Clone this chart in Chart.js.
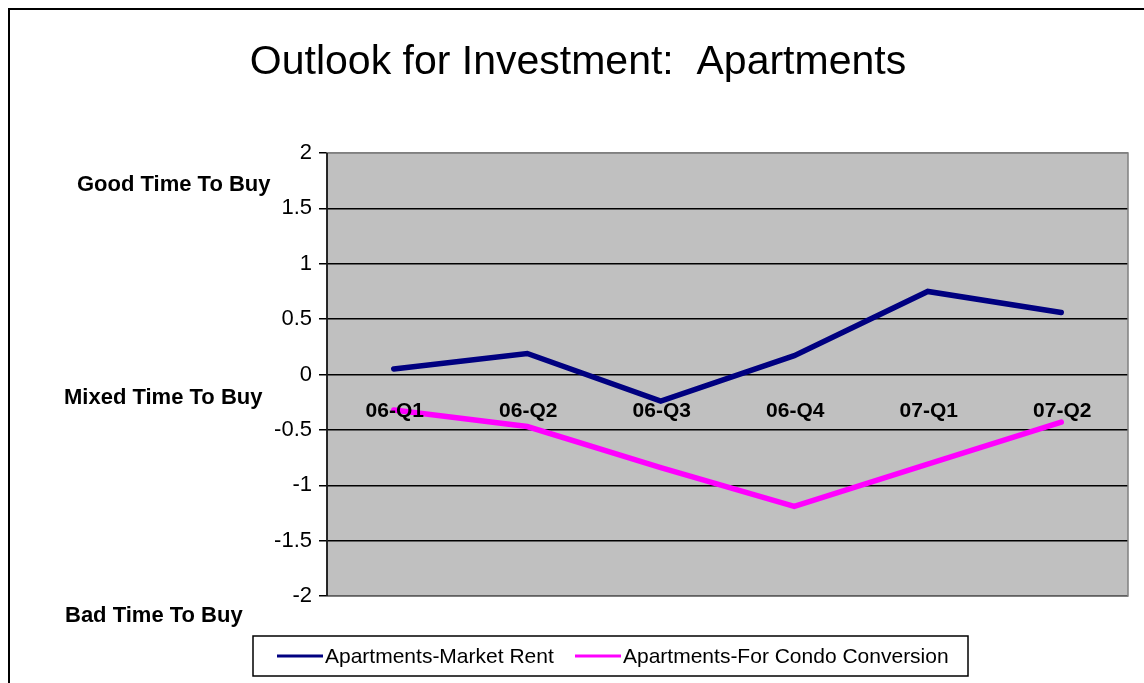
<!DOCTYPE html>
<html>
<head>
<meta charset="utf-8">
<script src="https://cdn.jsdelivr.net/npm/chart.js@4"></script>
<style>
  html, body { margin: 0; padding: 0; background: #fff; }
  #wrap { width: 1144px; height: 683px; position: relative; }
</style>
</head>
<body>
<div id="wrap"><canvas id="outlookChart" width="1144" height="683"></canvas></div>
<script>
const quarters = ['06-Q1', '06-Q2', '06-Q3', '06-Q4', '07-Q1', '07-Q2'];
const marketRent = [0.05, 0.19, -0.24, 0.17, 0.75, 0.56];
const condoConversion = [-0.32, -0.47, -0.84, -1.19, -0.81, -0.43];
const yTicks = [2, 1.5, 1, 0.5, 0, -0.5, -1, -1.5, -2];
const sideLabels = [
  { text: 'Good Time To Buy', value: 1.72, x: 77 },
  { text: 'Mixed Time To Buy', value: -0.2, x: 64 },
  { text: 'Bad Time To Buy', value: -2.17, x: 65 }
];
const chartTitle = 'Outlook for Investment:  Apartments';

const FONT = '"Liberation Sans", Arial, sans-serif';

// extra drawing: frame, plot background, title, side labels, category labels, legend
const decorations = {
  id: 'decorations',
  beforeDraw(chart) {
    const { ctx, chartArea: a } = chart;
    ctx.save();
    ctx.fillStyle = '#fff';
    ctx.fillRect(0, 0, chart.width, chart.height);
    ctx.fillStyle = '#c0c0c0';
    ctx.fillRect(a.left, a.top, a.right - a.left, a.bottom - a.top);
    ctx.restore();
  },
  afterDatasetsDraw(chart) {
    const { ctx, chartArea: a, scales } = chart;
    const x = scales.x, y = scales.y;
    ctx.save();

    // outer frame
    ctx.strokeStyle = '#000';
    ctx.lineWidth = 2;
    ctx.strokeRect(9, 9, chart.width + 20, chart.height + 20);

    // plot border
    ctx.strokeStyle = '#808080';
    ctx.lineWidth = 1.5;
    ctx.strokeRect(a.left, a.top, a.right - a.left, a.bottom - a.top);
    ctx.strokeStyle = '#000';
    ctx.beginPath();
    ctx.moveTo(a.left, a.top);
    ctx.lineTo(a.left, a.bottom);
    ctx.stroke();

    // title
    ctx.fillStyle = '#000';
    ctx.font = '41px ' + FONT;
    ctx.textAlign = 'center';
    ctx.textBaseline = 'middle';
    ctx.fillText(chartTitle, 578, 63);

    // side labels
    ctx.font = 'bold 22px ' + FONT;
    ctx.textAlign = 'left';
    sideLabels.forEach(s => {
      ctx.fillText(s.text, s.x, y.getPixelForValue(s.value) + 1);
    });

    // category labels sitting below the zero line
    ctx.font = 'bold 21px ' + FONT;
    ctx.textAlign = 'center';
    const zeroY = y.getPixelForValue(0);
    quarters.forEach((q, i) => {
      ctx.fillText(q, x.getPixelForValue(i) + 1, zeroY + 37);
    });

    // legend
    const lx = 253, ly = 636, lw = 715, lh = 40;
    ctx.fillStyle = '#fff';
    ctx.fillRect(lx, ly, lw, lh);
    ctx.strokeStyle = '#000';
    ctx.lineWidth = 1.5;
    ctx.strokeRect(lx, ly, lw, lh);
    ctx.font = '21px ' + FONT;
    ctx.textAlign = 'left';
    const items = [
      { x: 277, ds: chart.data.datasets[0] },
      { x: 575, ds: chart.data.datasets[1] }
    ];
    items.forEach(it => {
      ctx.strokeStyle = it.ds.borderColor;
      ctx.lineWidth = 3;
      ctx.beginPath();
      ctx.moveTo(it.x, ly + lh / 2);
      ctx.lineTo(it.x + 46, ly + lh / 2);
      ctx.stroke();
      ctx.fillStyle = '#000';
      ctx.fillText(it.ds.label, it.x + 48, ly + lh / 2 + 1);
    });
    ctx.restore();
  }
};

new Chart(document.getElementById('outlookChart'), {
  type: 'line',
  data: {
    labels: quarters,
    datasets: [
      {
        label: 'Apartments-Market Rent',
        data: marketRent,
        borderColor: '#000080',
        borderWidth: 5.5,
        borderCapStyle: 'round',
        pointRadius: 0,
        tension: 0
      },
      {
        label: 'Apartments-For Condo Conversion',
        data: condoConversion,
        borderColor: '#ff00ff',
        borderWidth: 5.5,
        borderCapStyle: 'round',
        pointRadius: 0,
        tension: 0
      }
    ]
  },
  options: {
    responsive: false,
    animation: false,
    devicePixelRatio: 1,
    layout: { padding: { left: 267, right: 16, top: 153, bottom: 87 } },
    plugins: {
      legend: { display: false },
      title: { display: false },
      tooltip: { enabled: false }
    },
    scales: {
      x: {
        display: false,
        offset: true
      },
      y: {
        min: -2,
        max: 2,
        afterFit(scale) { scale.width = 60; },
        afterBuildTicks(scale) { scale.ticks = yTicks.map(v => ({ value: v })); },
        border: { display: false },
        grid: {
          color: ctx => (ctx.tick && ctx.tick.value === 2) ? '#808080' : '#000',
          lineWidth: 1.5,
          tickLength: 8,
          tickColor: '#000',
          drawTicks: true
        },
        ticks: {
          color: '#000',
          padding: 7,
          font: { family: FONT, size: 22 },
          callback: v => String(v)
        }
      }
    }
  },
  plugins: [decorations]
});
</script>
</body>
</html>
